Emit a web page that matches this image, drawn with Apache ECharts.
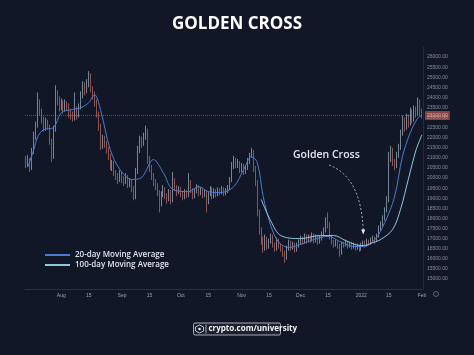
<!DOCTYPE html>
<html>
<head>
<meta charset="utf-8">
<script src="https://cdn.jsdelivr.net/npm/echarts@6/dist/echarts.min.js"></script>
<style>
  html, body { margin: 0; padding: 0; background: #121727; }
  #main { width: 474px; height: 355px; }
</style>
</head>
<body>
<div id="main"></div>
<script>
// daily candles from 2021-07-14, rows are [open, close, low, high]
var startDay = Date.UTC(2021, 6, 14);
var candles = [
  [20900,20700,20500,21100],[20700,20900,20550,21150],[20900,20500,20300,21000],[20500,21300,20400,21500],
  [21300,22050,21200,22300],[22050,22600,21900,22800],[22600,23750,22500,24250],[23750,23300,23100,23900],
  [23300,22900,22700,23450],[22900,22500,22300,23050],[22500,22750,22350,23000],[22750,22550,22400,22900],
  [22550,21800,21650,22650],[21800,21050,20800,21950],[21050,22400,20950,22600],[22400,24100,22300,24600],
  [24100,23900,23600,24350],[23900,23500,23300,24050],[23500,23700,23350,23950],[23700,23400,23200,23850],
  [23400,23650,23300,23900],[23650,23550,23350,23800],[23550,23200,23000,23700],[23200,23150,22900,23400],
  [23150,22950,22800,23300],[22950,23400,22850,24250],[23400,23100,22900,23550],[23100,23500,23000,23700],
  [23500,24100,23400,24300],[24100,24600,23950,24800],[24600,24300,24100,24750],[24300,24650,24200,24900],
  [24650,25100,24500,25300],[25100,24400,24250,25200],[24400,24150,23900,24550],[24150,23750,23550,24300],
  [23750,23200,23000,23900],[23200,22550,22350,23300],[22550,21600,21400,22700],[21600,21950,21450,22150],
  [21950,21700,21500,22100],[21700,21400,21200,21850],[21400,21100,20900,21550],[21100,20550,20400,21200],
  [20550,20700,20350,20900],[20700,20250,20100,20850],[20250,20100,19900,20400],[20100,19900,19700,20250],
  [19900,20200,19800,20400],[20200,19950,19750,20350],[19950,19800,19600,20100],[19800,20050,19700,20250],
  [20050,19700,19500,20150],[19700,19850,19550,20000],[19850,19500,19300,19950],[19500,19000,18900,19600],
  [19000,20300,18950,20500],[20300,21400,20200,21600],[21400,21900,21250,22100],[21900,21700,21500,22050],
  [21700,22050,21600,22250],[22050,22400,21900,22600],[22400,20900,20700,22450],[20900,20500,20300,21100],
  [20500,20100,19900,20650],[20100,19800,19600,20250],[19800,19600,19400,19950],[19600,19300,19100,19750],
  [19300,18700,18300,19400],[18700,19200,18600,19350],[19200,19450,19050,19650],[19450,19100,18950,19550],
  [19100,18950,18750,19250],[18950,19300,18850,19450],[19300,18900,18700,19400],[18900,19900,18800,20300],
  [19900,19500,19350,20000],[19500,19300,19100,19650],[19300,19450,19200,19600],[19450,19200,19050,19550],
  [19200,19050,18900,19350],[19050,19300,18950,19450],[19300,19150,19000,19400],[19150,19800,19050,20250],
  [19800,19400,19250,19900],[19400,19100,18950,19500],[19100,19350,19000,19500],[19350,19550,19250,19700],
  [19550,19250,19100,19650],[19250,19400,19150,19550],[19400,19150,19000,19500],[19150,19300,19050,19450],
  [19300,18800,18300,19350],[18800,19200,18700,19350],[19200,19450,19100,19600],[19450,19100,18950,19550],
  [19100,19350,19000,19500],[19350,19200,19050,19450],[19200,19400,19100,19550],[19400,19300,19150,19500],
  [19300,19450,19200,19600],[19450,19250,19100,19550],[19250,19350,19150,19500],[19350,19500,19250,19650],
  [19500,19900,19400,20050],[19900,20600,19800,20800],[20600,20900,20450,21100],[20900,20650,20500,21000],
  [20650,20750,20500,20950],[20750,20400,20250,20850],[20400,20600,20300,20750],[20600,20300,20150,20700],
  [20300,20500,20200,20650],[20500,20850,20400,21000],[20850,21100,20700,21250],[21100,21350,21000,21500],
  [21350,20500,20300,21400],[20500,19800,19600,20600],[19800,18300,18100,19900],[18300,17400,17200,18450],
  [17400,16950,16700,17550],[16950,16500,16300,17100],[16500,17000,16400,17200],[17000,16600,16450,17100],
  [16600,16850,16500,17000],[16850,17100,16750,17250],[17100,16700,16550,17200],[16700,16500,16350,16800],
  [16500,16900,16400,17050],[16900,16650,16500,17000],[16650,16500,16350,16750],[16500,16300,16100,16600],
  [16300,16000,15800,16400],[16000,16500,15950,16650],[16500,16800,16400,16950],[16800,16550,16400,16900],
  [16550,16700,16450,16850],[16700,16450,16300,16800],[16450,16650,16350,16800],[16650,16800,16550,16950],
  [16800,17000,16700,17150],[17000,16850,16700,17100],[16850,17100,16750,17250],[17100,16900,16750,17200],
  [16900,17050,16800,17200],[17050,16950,16800,17150],[16950,17150,16850,17300],[17150,16900,16750,17250],
  [16900,17050,16800,17200],[17050,16850,16700,17150],[16850,17000,16750,17150],[17000,17200,16900,17350],
  [17200,17400,17100,17550],[17400,17900,17300,18050],[17900,17700,17500,18300],[17700,17100,16950,17800],
  [17100,16850,16700,17200],[16850,16700,16550,16950],[16700,16800,16600,16950],[16800,16650,16500,16900],
  [16650,16300,16100,16750],[16300,16750,16200,16850],[16750,16700,16550,16850],[16700,16850,16600,16950],
  [16850,16650,16500,16900],[16650,16750,16550,16850],[16750,16600,16450,16850],[16600,16700,16500,16800],
  [16700,16550,16400,16750],[16550,16650,16450,16750],[16650,16500,16350,16700],[16500,16700,16400,16800],
  [16700,16800,16600,16900],[16800,16700,16550,16900],[16700,16900,16600,17000],[16900,16800,16650,16950],
  [16800,16950,16700,17050],[16950,17000,16850,17150],[17000,16900,16750,17100],[16900,17150,16850,17250],
  [17150,17500,17050,17650],[17500,17700,17400,17850],[17700,18000,17600,18150],[18000,18400,17900,18550],
  [18400,18900,18300,19100],[18900,21000,18800,21300],[21000,21400,20800,21600],[21400,20800,20600,21500],
  [20800,20600,20400,20950],[20600,21100,20500,21300],[21100,21500,21000,21700],[21500,22200,21400,22400],
  [22200,22900,22100,23100],[22900,22500,22300,23000],[22500,23000,22400,23200],[23000,22700,22500,23150],
  [22700,23300,22600,23500],[23300,22900,22700,23400],[22900,23400,22800,23600],[23400,23200,23000,23550],
  [23200,23800,23100,24000],[23800,23300,23100,23900],[23300,23100,22950,23450]
];

var ma20 = [
  ['2021-07-15',20570],['2021-07-18',21410],['2021-07-20',22050],['2021-07-23',22400],['2021-07-28',22500],
  ['2021-08-01',23240],['2021-08-06',23390],['2021-08-11',23490],['2021-08-15',23740],['2021-08-18',24130],
  ['2021-08-21',23390],['2021-08-26',21410],['2021-08-31',20420],['2021-09-06',19930],['2021-09-11',20030],
  ['2021-09-17',20920],['2021-09-22',20270],['2021-09-27',19430],['2021-10-05',19330],['2021-10-10',19580],
  ['2021-10-15',19330],['2021-10-21',19280],['2021-10-28',19580],['2021-11-02',20420],['2021-11-06',21060],
  ['2021-11-09',20770],['2021-11-12',19080],['2021-11-16',17600],['2021-11-20',16810],['2021-11-25',16560],
  ['2021-12-01',16710],['2021-12-08',16960],['2021-12-15',17110],['2021-12-22',16810],['2021-12-28',16610],
  ['2022-01-02',16610],['2022-01-08',16960],['2022-01-13',17800],['2022-01-18',19080],['2022-01-22',21060],
  ['2022-01-26',22250],['2022-01-30',23000],['2022-02-01',23100]
];

var ma100 = [
  ['2021-11-11',18940],['2021-11-16',17850],['2021-11-21',17150],['2021-12-01',17000],['2021-12-11',17150],
  ['2021-12-18',17150],['2021-12-24',16900],['2021-12-29',16700],['2022-01-02',16650],['2022-01-07',16800],
  ['2022-01-11',16960],['2022-01-17',17450],['2022-01-21',18440],['2022-01-25',19930],['2022-01-29',21410],
  ['2022-02-01',22150]
];

var monthNames = ['2022','Feb','Mar','Apr','May','Jun','Jul','Aug','Sep','Oct','Nov','Dec'];
var yMin = 14500, yMax = 26500, yStep = 500;

var dates = candles.map(function (c, i) {
  var d = new Date(startDay + i * 86400000);
  return d.toISOString().slice(0, 10);
});
var lastClose = candles[candles.length - 1][1];

var myChart = echarts.init(document.getElementById('main'));

var option = {
  backgroundColor: '#121727',
  animation: false,
  title: {
    text: 'GOLDEN CROSS',
    left: 'center',
    top: 11,
    textStyle: { color: '#ffffff', fontSize: 17, fontWeight: 700, fontFamily: 'Open Sans' }
  },
  legend: {
    orient: 'vertical',
    left: 45,
    top: 250,
    padding: 0,
    icon: 'rect',
    itemWidth: 25,
    itemHeight: 2,
    itemGap: 0,
    data: ['20-day Moving Average', '100-day Moving Average'],
    textStyle: { color: '#dfe5ef', fontSize: 8, fontWeight: 600, fontFamily: 'Open Sans', lineHeight: 10 }
  },
  grid: { left: 25, right: 51, top: 47, bottom: 66 },
  xAxis: {
    type: 'category',
    data: dates,
    boundaryGap: true,
    axisLine: { lineStyle: { color: '#2a3143' } },
    axisTick: { show: false },
    axisLabel: {
      color: '#9aa2b4',
      fontSize: 5,
      margin: 4,
      interval: function (i, v) {
        var day = +v.slice(8, 10);
        return i > 10 && (day === 1 || day === 15);
      },
      formatter: function (v) {
        var day = +v.slice(8, 10);
        if (day === 15) return '15';
        return monthNames[+v.slice(5, 7) - 1];
      }
    },
    splitLine: { show: false }
  },
  yAxis: {
    type: 'value',
    position: 'right',
    min: yMin,
    max: yMax,
    interval: yStep,
    axisLine: { show: true, lineStyle: { color: '#222a3b' } },
    axisTick: { show: false },
    splitLine: { show: false },
    axisLabel: {
      color: '#858ea2',
      fontSize: 5,
      margin: 4,
      showMinLabel: false,
      showMaxLabel: false,
      formatter: function (v) { return v.toFixed(2); }
    }
  },
  series: [
    {
      name: 'price',
      type: 'candlestick',
      data: candles,
      barMaxWidth: 1.5,
      itemStyle: {
        color: '#b7d0e4',
        color0: '#df7d72',
        borderColor: '#b7d0e4',
        borderColor0: '#df7d72',
        borderWidth: 0.6
      },
      markLine: {
        symbol: 'none',
        silent: true,
        data: [{ yAxis: lastClose }],
        lineStyle: { color: '#d9675f', type: 'dotted', width: 1, opacity: 0.55 },
        label: {
          position: 'end',
          distance: 2,
          formatter: function (p) { return p.value.toFixed(2); },
          backgroundColor: '#e5675e',
          color: '#ffffff',
          fontSize: 5,
          padding: [2, 2, 2, 2],
          borderRadius: 1
        }
      }
    },
    {
      name: '20-day Moving Average',
      type: 'line',
      data: ma20,
      smooth: 0.35,
      showSymbol: false,
      lineStyle: { color: '#4b7bd0', width: 1 },
      itemStyle: { color: '#4b7bd0' },
      z: 3
    },
    {
      name: '100-day Moving Average',
      type: 'line',
      data: ma100,
      smooth: 0.35,
      showSymbol: false,
      lineStyle: { color: '#8fc8de', width: 1 },
      itemStyle: { color: '#8fc8de' },
      z: 3
    }
  ]
};
myChart.setOption(option);

// annotation: "Golden Cross" with dashed arrow to the crossing point
var tip = myChart.convertToPixel({ gridIndex: 0 }, ['2022-01-02', 17200]);
var sx = 329, sy = 165;
myChart.setOption({
  graphic: [
    {
      type: 'text',
      left: 293,
      top: 150,
      style: { text: 'Golden Cross', fill: '#e3e9f2', fontSize: 10.5, fontWeight: 600, fontFamily: 'Open Sans' }
    },
    {
      type: 'bezierCurve',
      shape: { x1: sx, y1: sy, cpx1: tip[0] - 2, cpy1: sy + 12, x2: tip[0], y2: tip[1] - 4 },
      style: { stroke: '#cfd7e3', lineWidth: 0.8, lineDash: [2, 2], fill: null }
    },
    {
      type: 'polygon',
      shape: { points: [[tip[0] - 2, tip[1] - 5], [tip[0] + 2, tip[1] - 5], [tip[0], tip[1]]] },
      style: { fill: '#e9eef5' }
    },
    {
      type: 'circle',
      shape: { cx: 436, cy: 294, r: 2.5 },
      style: { stroke: '#7f889c', lineWidth: 0.7, fill: null }
    },
    {
      type: 'group',
      left: 193,
      top: 322,
      children: [
        { type: 'rect', shape: { x: 0, y: 0, width: 87, height: 12, r: 1.5 }, style: { stroke: '#c9d1dd', lineWidth: 0.8, fill: 'rgba(255,255,255,0.04)' } },
        { type: 'polygon', shape: { points: [[6, 2], [10, 4], [10, 8], [6, 10], [2, 8], [2, 4]] }, style: { stroke: '#e6ebf2', lineWidth: 0.8, fill: null } },
        { type: 'circle', shape: { cx: 6, cy: 6, r: 1.3 }, style: { fill: '#e6ebf2' } },
        { type: 'line', shape: { x1: 12.5, y1: 1.5, x2: 12.5, y2: 10.5 }, style: { stroke: '#c9d1dd', lineWidth: 0.8 } },
        { type: 'text', x: 15, y: 1.5, style: { text: 'crypto.com/university', fill: '#f2f5f9', fontSize: 8, fontWeight: 700, fontFamily: 'Open Sans' } }
      ]
    }
  ]
});
</script>
</body>
</html>
